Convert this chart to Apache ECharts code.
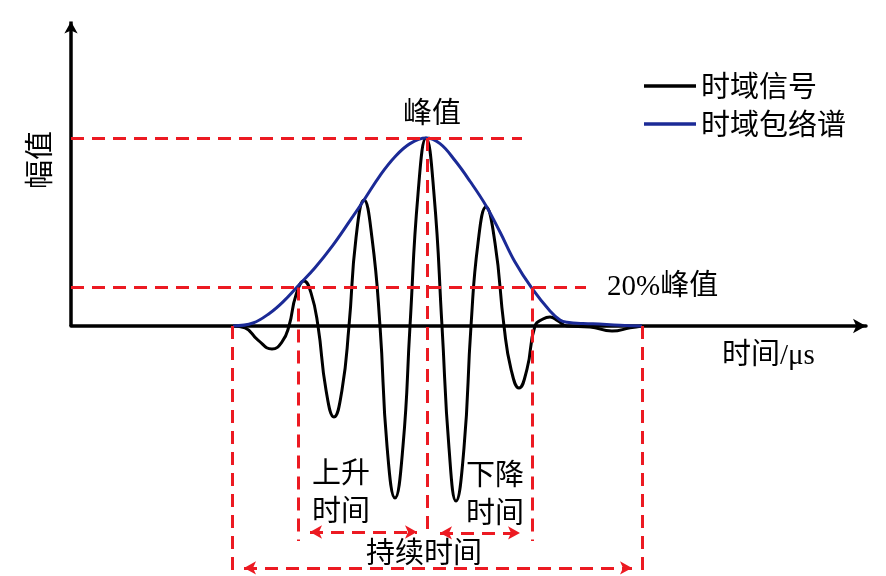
<!DOCTYPE html>
<html><head><meta charset="utf-8">
<script src="https://cdn.jsdelivr.net/npm/echarts@6/dist/echarts.min.js"></script>
<style>html,body{margin:0;padding:0;background:#fff}#c{width:886px;height:576px}</style>
</head><body><div id="c"></div>
<script>
// time (arbitrary units) and amplitude (normalised to peak)
const sigT = [16.2,17.4,18.7,20.1,21.1,21.8,22.5,23.3,24.0,24.7,25.5,26.3,27.1,27.8,28.5,29.3,30.1,30.9,31.6,32.4,33.2,33.9,34.7,35.5,36.3,37.1,37.8,38.5,39.3,40.0,40.7,41.5,42.4,43.3,44.0,44.8,45.6,46.4,47.2,47.9,48.7,49.6,51.9,54.1,55.9,57.1];
const sigV = [0,-0.01,-0.075,-0.122,-0.085,0,0.165,0.239,0.176,0,-0.34,-0.484,-0.34,0,0.468,0.67,0.468,0,-0.638,-0.915,-0.638,0,0.702,1.0,0.702,0,-0.649,-0.931,-0.649,0,0.441,0.633,0.441,0,-0.229,-0.33,-0.229,0,0.037,0.048,0.027,0,-0.005,-0.027,-0.01,0];
const envT = [16.2,18.2,19.9,21.2,22.7,24.4,26.2,27.9,29.3,30.9,32.4,33.9,35.5,36.9,38.4,39.9,41.5,42.9,44.4,46.1,47.9,48.9,49.6,51.2,52.2,54.9,57.1];
const envV = [0,0.016,0.069,0.128,0.213,0.31,0.43,0.56,0.67,0.80,0.90,0.97,1.0,0.97,0.88,0.77,0.64,0.50,0.34,0.20,0.08,0.032,0.02,0.013,0.012,0.004,0];
const seriesNames = ['时域信号','时域包络谱'];
// key times / levels of the annotation
const tStart = 16.1, tRise = 22.7, tPeak = 35.6, tFall = 46.1, tEnd = 57.1;
const peakLevel = 1.0, level20 = 0.205;

const RED = '#ec1a22', BLUE = '#1b2a96';
const chart = echarts.init(document.getElementById('c'));
const dash = {color: RED, width: 3, type: [13, 8]};
const solidAxis = {color: '#000', width: 3.5, type: 'solid'};
function seg(a, b, style, sym) {
  return [{coord: a, symbol: sym ? sym[0] : 'none', lineStyle: style}, {coord: b, symbol: sym ? sym[1] : 'none'}];
}
const font = '"Liberation Serif","Noto Sans CJK SC",serif';
const cjk = '"Noto Sans CJK SC",sans-serif';
chart.setOption({
  animation: false,
  grid: {left: 71, top: 15.8, width: 795, height: 560.2},
  xAxis: {type: 'value', min: 0, max: 79.5,
    axisLine: {show: true, onZero: true, symbol: ['none','arrow'], symbolSize: [11, 13], lineStyle: {color: '#000', width: 3.5}},
    axisTick: {show: false}, axisLabel: {show: false}, splitLine: {show: false}},
  yAxis: {type: 'value', min: -1.33, max: 1.65,
    axisLine: {show: false}, axisTick: {show: false}, axisLabel: {show: false}, splitLine: {show: false}},
  legend: {data: seriesNames, orient: 'vertical', left: 639, top: 66, itemWidth: 52, itemHeight: 3.5, icon: 'rect', itemGap: 8,
    textStyle: {fontSize: 29, fontFamily: cjk, color: '#000', lineHeight: 30}},
  series: [
    {name: seriesNames[0], type: 'line', data: sigT.map((t,i)=>[t, sigV[i]]), smooth: 0.5, showSymbol: false, symbol: 'none',
      lineStyle: {color: '#000', width: 3}, itemStyle: {color: '#000'}, z: 2},
    {name: seriesNames[1], type: 'line', data: envT.map((t,i)=>[t, envV[i]]), smooth: 0.4, showSymbol: false, symbol: 'none',
      lineStyle: {color: BLUE, width: 3}, itemStyle: {color: BLUE}, z: 3},
    {name: 'annot', type: 'line', data: [[0,0]], showSymbol: false, symbol: 'none', lineStyle: {width: 0}, z: 4,
      markLine: {silent: true, animation: false, symbolSize: [10, 12], label: {show: false},
        data: [
          seg([0,0],[0,1.62], solidAxis, ['none','arrow']),
          seg([0,peakLevel],[45.1,peakLevel], dash),
          seg([0,level20],[51.5,level20], dash),
          seg([tStart,0],[tStart,-1.33], dash),
          seg([tRise,level20],[tRise,-1.144], dash),
          seg([tPeak,peakLevel],[tPeak,-1.112], dash),
          seg([tFall,level20],[tFall,-1.144], dash),
          seg([tEnd,0],[tEnd,-1.33], dash),
          seg([23.9,-1.096],[34.6,-1.096], dash, ['arrow','arrow']),
          seg([36.9,-1.101],[44.9,-1.101], dash, ['arrow','arrow']),
          seg([17.3,-1.287],[56.1,-1.287], dash, ['arrow','arrow'])
        ]}}
  ],
  graphic: [
    {type:'text', x: 432, y: 112, style:{text:'峰值', font:'29px '+cjk, fill:'#000', textAlign:'center', textVerticalAlign:'middle'}},
    {type:'text', x: 607, y: 287, style:{text:'20%峰值', font:'29px '+font, fill:'#000', textAlign:'left', textVerticalAlign:'middle'}},
    {type:'text', x: 722, y: 356, style:{text:'时间/μs', font:'29px '+font, fill:'#000', textAlign:'left', textVerticalAlign:'middle'}},
    {type:'text', x: 39, y: 160, rotation: Math.PI/2, style:{text:'幅值', font:'29px '+cjk, fill:'#000', textAlign:'center', textVerticalAlign:'middle'}},
    {type:'text', x: 341, y: 491, style:{text:'上升\n时间', font:'29px '+cjk, lineHeight: 38, fill:'#000', textAlign:'center', textVerticalAlign:'middle'}},
    {type:'text', x: 495, y: 493, style:{text:'下降\n时间', font:'29px '+cjk, lineHeight: 38, fill:'#000', textAlign:'center', textVerticalAlign:'middle'}},
    {type:'text', x: 424, y: 552, style:{text:'持续时间', font:'29px '+cjk, fill:'#000', textAlign:'center', textVerticalAlign:'middle'}}
  ]
});
</script></body></html>
